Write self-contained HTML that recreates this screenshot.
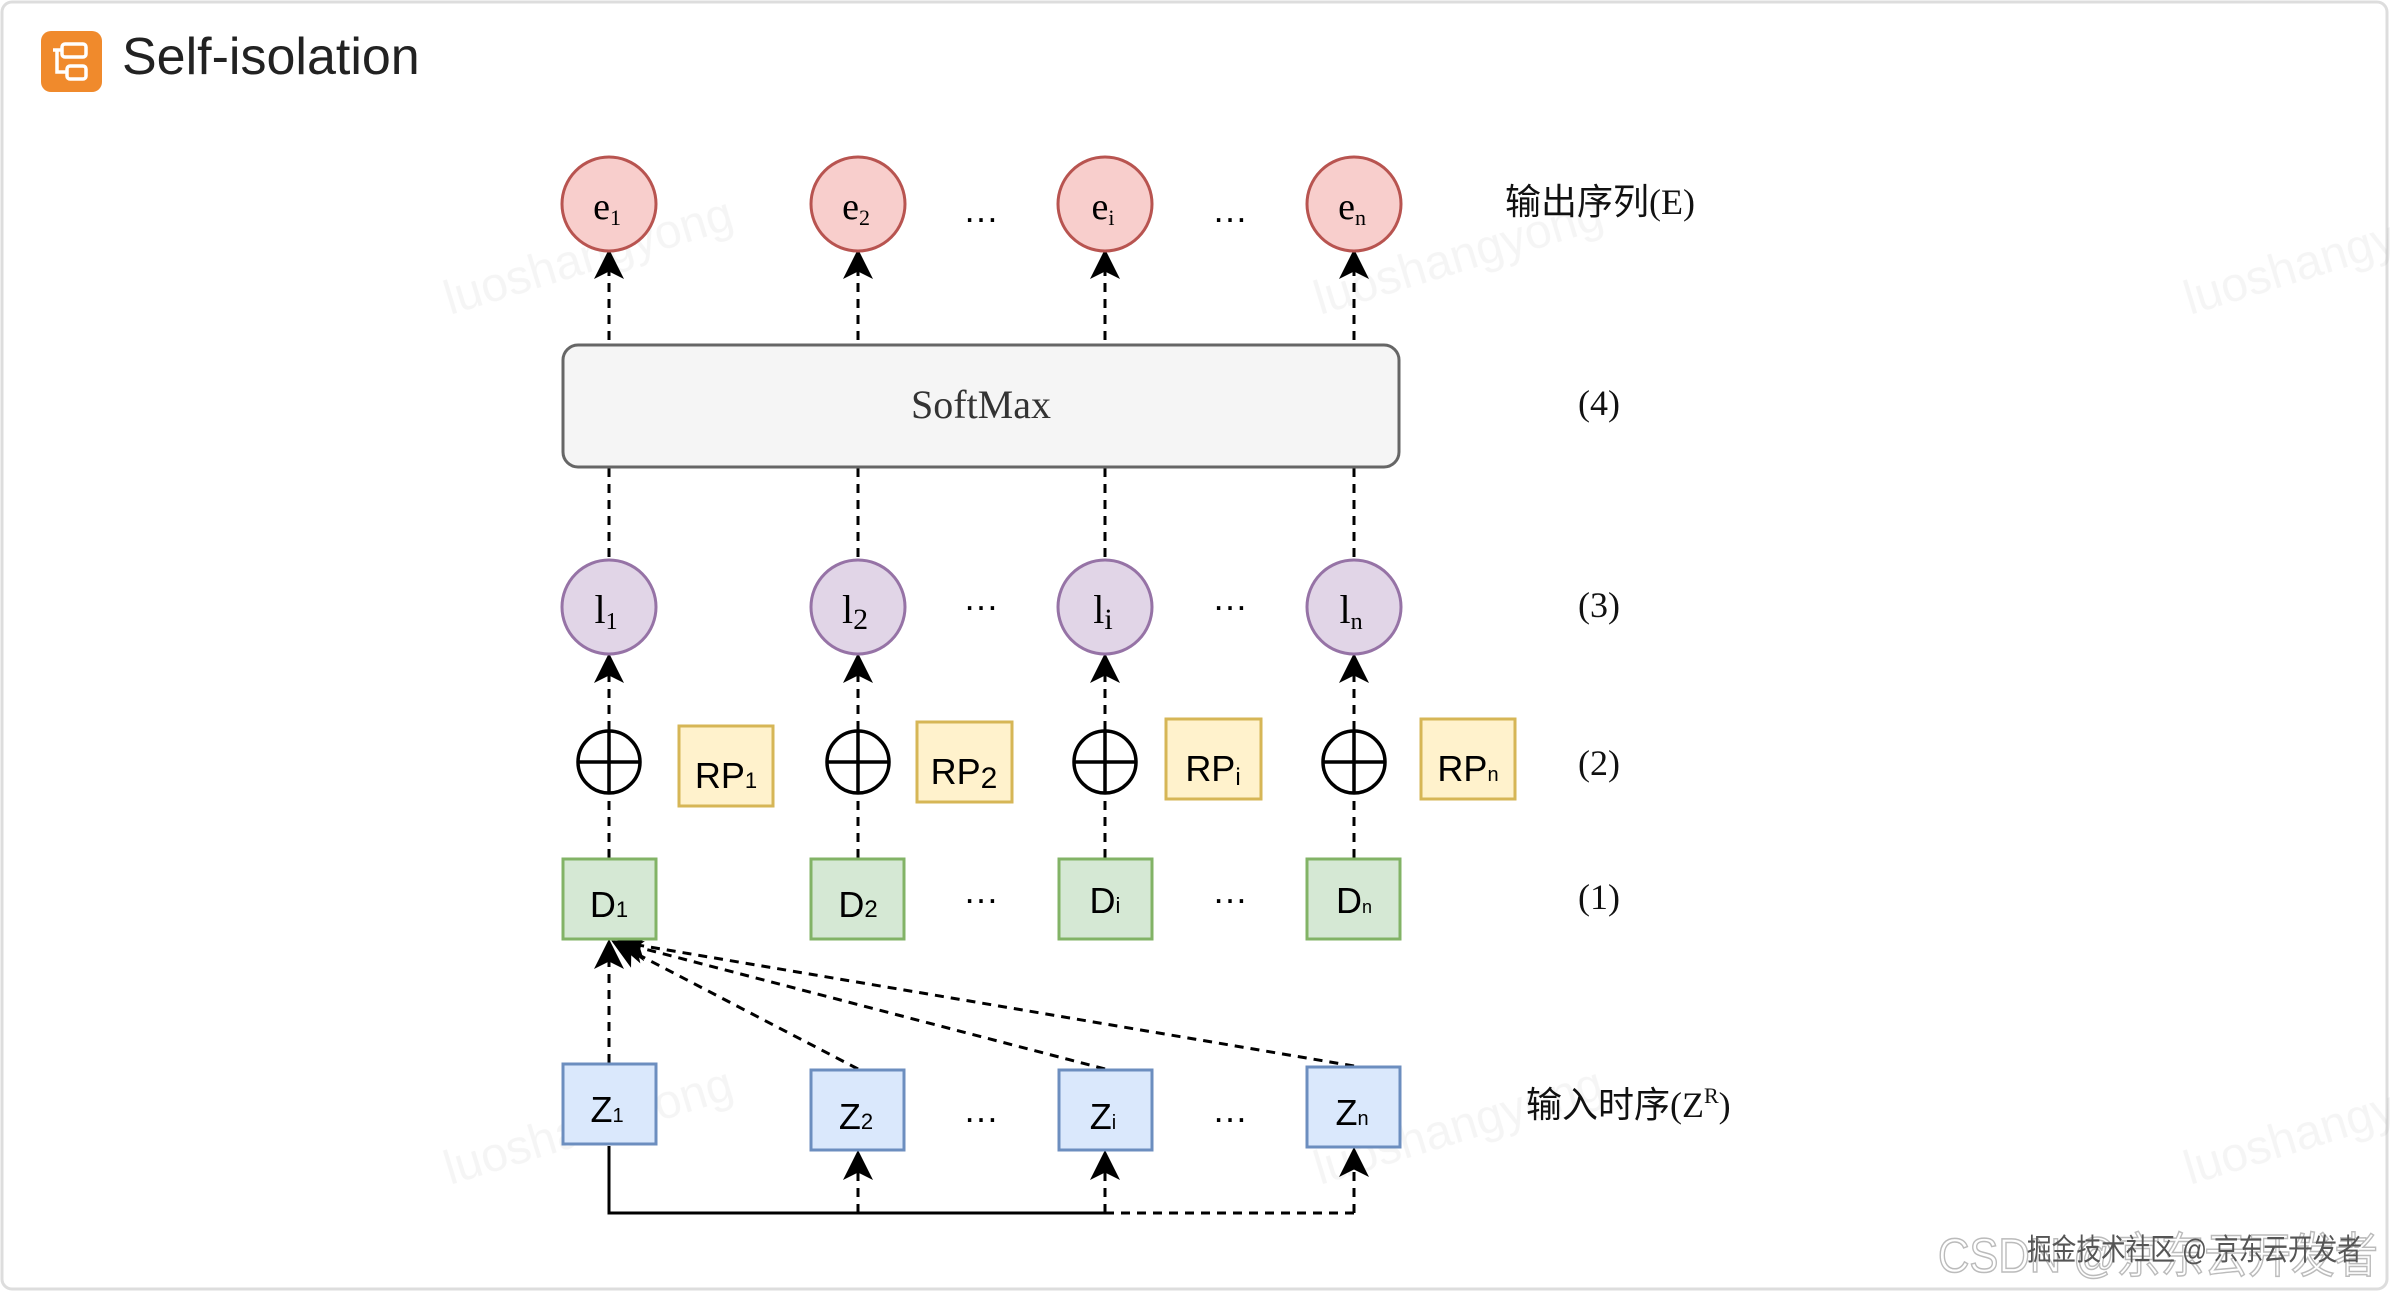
<!DOCTYPE html>
<html><head><meta charset="utf-8"><style>
html,body{margin:0;padding:0;background:#fff;}
body{width:2390px;height:1294px;overflow:hidden;position:relative;}
</style></head><body>
<svg width="2390" height="1294" viewBox="0 0 2390 1294" xmlns="http://www.w3.org/2000/svg">
<defs>
<marker id="ah" viewBox="0 0 20 20" refX="18" refY="10" markerWidth="30" markerHeight="30" markerUnits="userSpaceOnUse" orient="auto">
<path d="M0,0 L20,10 L0,20 L5,10 Z" fill="#000"/>
</marker>
</defs>
<rect x="2" y="2" width="2385" height="1287" rx="10" fill="#fff" stroke="#ddd" stroke-width="3"/>
<rect x="41" y="31" width="61" height="61" rx="10" fill="#f08a2c"/>
<g stroke="#fff" stroke-width="3.5" fill="none">
<rect x="62" y="44" width="24" height="13" rx="3"/>
<rect x="67" y="66" width="19" height="13" rx="3"/>
<path d="M53,50 L62,50 M57,50 L57,72 L67,72"/>
</g>
<text x="122" y="74" font-family="Liberation Sans, sans-serif" font-size="52" fill="#222">Self-isolation</text>

<g font-family="Liberation Serif, serif" fill="#000">
<g fill="#000" opacity="0.04" font-family="Liberation Sans, sans-serif" font-size="48">
<text transform="translate(450,315) rotate(-17)">luoshangyong</text>
<text transform="translate(1320,315) rotate(-17)">luoshangyong</text>
<text transform="translate(2190,315) rotate(-17)">luoshangyong</text>
<text transform="translate(450,1185) rotate(-17)">luoshangyong</text>
<text transform="translate(1320,1185) rotate(-17)">luoshangyong</text>
<text transform="translate(2190,1185) rotate(-17)">luoshangyong</text>
</g>

<g stroke="#000" stroke-width="3" stroke-dasharray="9,7" fill="none" marker-end="url(#ah)">
<line x1="609" y1="340" x2="609" y2="252"/>
<line x1="858" y1="340" x2="858" y2="252"/>
<line x1="1105" y1="340" x2="1105" y2="252"/>
<line x1="1354" y1="340" x2="1354" y2="252"/>
</g>
<g stroke="#000" stroke-width="3" stroke-dasharray="9,7" fill="none">
<line x1="609" y1="468" x2="609" y2="560"/>
<line x1="858" y1="468" x2="858" y2="560"/>
<line x1="1105" y1="468" x2="1105" y2="560"/>
<line x1="1354" y1="468" x2="1354" y2="560"/>
</g>
<g stroke="#000" stroke-width="3" stroke-dasharray="9,7" fill="none" marker-end="url(#ah)">
<line x1="609" y1="858" x2="609" y2="656"/>
<line x1="858" y1="858" x2="858" y2="656"/>
<line x1="1105" y1="858" x2="1105" y2="656"/>
<line x1="1354" y1="858" x2="1354" y2="656"/>
</g>
<g stroke="#000" stroke-width="3" stroke-dasharray="9,7" fill="none" marker-end="url(#ah)">
<line x1="609" y1="1063" x2="609" y2="942"/>
<line x1="858" y1="1069" x2="614" y2="942"/>
<line x1="1105" y1="1069" x2="618" y2="942"/>
<line x1="1354" y1="1066" x2="620" y2="942"/>
</g>
<path d="M609,1146 L609,1213 L1105,1213" stroke="#000" stroke-width="3" fill="none"/>
<path d="M1105,1213 L1354,1213" stroke="#000" stroke-width="3" stroke-dasharray="9,7" fill="none"/>
<g stroke="#000" stroke-width="3" stroke-dasharray="9,7" fill="none" marker-end="url(#ah)">
<line x1="858" y1="1213" x2="858" y2="1153"/>
<line x1="1105" y1="1213" x2="1105" y2="1153"/>
<line x1="1354" y1="1213" x2="1354" y2="1150"/>
</g>

<g fill="#f8cecc" stroke="#b85450" stroke-width="3">
<circle cx="609" cy="204" r="47"/><circle cx="858" cy="204" r="47"/>
<circle cx="1105" cy="204" r="47"/><circle cx="1354" cy="204" r="47"/>
</g>
<g font-size="38" text-anchor="middle">
<text x="607" y="219">e<tspan font-size="22" dy="6">1</tspan></text>
<text x="856" y="219">e<tspan font-size="22" dy="6">2</tspan></text>
<text x="1103" y="219">e<tspan font-size="22" dy="6">i</tspan></text>
<text x="1352" y="219">e<tspan font-size="22" dy="6">n</tspan></text>
</g>
<rect x="563" y="345" width="836" height="122" rx="15" fill="#f5f5f5" stroke="#666" stroke-width="3"/>
<text x="981" y="418" font-size="40" text-anchor="middle" fill="#333">SoftMax</text>

<g fill="#e1d5e7" stroke="#9673a6" stroke-width="3">
<circle cx="609" cy="607" r="47"/><circle cx="858" cy="607" r="47"/>
<circle cx="1105" cy="607" r="47"/><circle cx="1354" cy="607" r="47"/>
</g>
<g font-size="40" text-anchor="middle">
<text x="606" y="623">l<tspan font-size="24" dy="6">1</tspan></text>
<text x="855" y="623">l<tspan font-size="30" dy="6">2</tspan></text>
<text x="1103" y="623">l<tspan font-size="30" dy="6">i</tspan></text>
<text x="1351" y="623">l<tspan font-size="24" dy="6">n</tspan></text>
</g>

<g fill="#fff" stroke="#000" stroke-width="3.5">
<circle cx="609" cy="762" r="31"/><circle cx="858" cy="762" r="31"/>
<circle cx="1105" cy="762" r="31"/><circle cx="1354" cy="762" r="31"/>
</g>
<g stroke="#000" stroke-width="3.5">
<path d="M578,762H640M609,731V793"/><path d="M827,762H889M858,731V793"/>
<path d="M1074,762H1136M1105,731V793"/><path d="M1323,762H1385M1354,731V793"/>
</g>

<g fill="#fff2cc" stroke="#d6b656" stroke-width="3">
<rect x="679" y="726" width="94" height="80"/>
<rect x="917" y="722" width="95" height="80"/>
<rect x="1166" y="719" width="95" height="80"/>
<rect x="1421" y="719" width="94" height="80"/>
</g>
<g font-family="Liberation Sans, sans-serif" font-size="36" text-anchor="middle">
<text x="726" y="788">RP<tspan font-size="22">1</tspan></text>
<text x="964" y="784">RP<tspan font-size="30" dy="4">2</tspan></text>
<text x="1213" y="781">RP<tspan font-size="24" dy="4">i</tspan></text>
<text x="1468" y="781">RP<tspan font-size="20">n</tspan></text>
</g>

<g fill="#d5e8d4" stroke="#82b366" stroke-width="3">
<rect x="563" y="859" width="93" height="80"/><rect x="811" y="859" width="93" height="80"/>
<rect x="1059" y="859" width="93" height="80"/><rect x="1307" y="859" width="93" height="80"/>
</g>
<g font-family="Liberation Sans, sans-serif" font-size="36" text-anchor="middle">
<text x="609" y="917">D<tspan font-size="22">1</tspan></text>
<text x="858" y="917">D<tspan font-size="24">2</tspan></text>
<text x="1105" y="913">D<tspan font-size="22">i</tspan></text>
<text x="1354" y="913">D<tspan font-size="18">n</tspan></text>
</g>

<g fill="#dae8fc" stroke="#6c8ebf" stroke-width="3">
<rect x="563" y="1064" width="93" height="80"/><rect x="811" y="1070" width="93" height="80"/>
<rect x="1059" y="1070" width="93" height="80"/><rect x="1307" y="1067" width="93" height="80"/>
</g>
<g font-family="Liberation Sans, sans-serif" font-size="36" text-anchor="middle">
<text x="607" y="1122">Z<tspan font-size="20">1</tspan></text>
<text x="856" y="1129">Z<tspan font-size="22">2</tspan></text>
<text x="1103" y="1129">Z<tspan font-size="20">i</tspan></text>
<text x="1352" y="1125">Z<tspan font-size="20">n</tspan></text>
</g>

<g font-family="Liberation Sans, sans-serif" font-size="36" text-anchor="middle">
<text x="981" y="222">…</text><text x="1230" y="222">…</text>
<text x="981" y="610">…</text><text x="1230" y="610">…</text>
<text x="981" y="903">…</text><text x="1230" y="903">…</text>
<text x="981" y="1122">…</text><text x="1230" y="1122">…</text>
</g>

<g font-size="36" fill="#111">
<text x="1505" y="214" font-family="Liberation Serif, 'Noto Sans CJK SC', serif">输出序列(E)</text>
<text x="1578" y="415">(4)</text>
<text x="1578" y="617">(3)</text>
<text x="1578" y="775">(2)</text>
<text x="1578" y="909">(1)</text>
<text x="1526" y="1117" font-family="Liberation Serif, 'Noto Sans CJK SC', serif">输入时序(Z<tspan font-size="22" dy="-14">R</tspan><tspan dy="14">)</tspan></text>
</g>
</g>

<text x="1938" y="1272" textLength="440" lengthAdjust="spacingAndGlyphs" font-family="Liberation Sans, 'Noto Sans CJK SC', sans-serif" font-size="48" fill="#fff" stroke="#bbb" stroke-width="1.5">CSDN @京东云开发者</text>
<text x="2027" y="1260" textLength="335" lengthAdjust="spacingAndGlyphs" font-family="Liberation Sans, 'Noto Sans CJK SC', sans-serif" font-size="30" fill="#555">掘金技术社区 @ 京东云开发者</text>
</svg>
</body></html>
